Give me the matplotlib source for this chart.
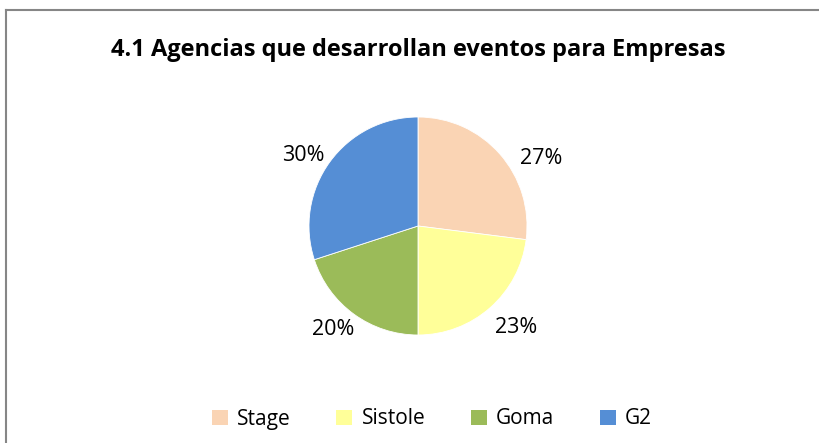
import matplotlib.pyplot as plt
from matplotlib.patches import Patch
from matplotlib.lines import Line2D

labels = ['Stage', 'Sistole', 'Goma', 'G2']
values = [27, 23, 20, 30]
colors = ['#FAD4B4', '#FFFF99', '#9BBB59', '#558ED5']
title = '4.1 Agencias que desarrollan eventos para Empresas'

# where each percentage sits, in units of the pie radius
label_pos = [(1.13, 0.62), (0.90, -0.93), (-0.78, -0.95), (-1.05, 0.65)]

plt.rcParams['font.family'] = ['Open Sans', 'DejaVu Sans']

W, H = 820, 443
fig = plt.figure(figsize=(W / 100, H / 100), dpi=100)

# frame: only top and left edges are visible in the crop
fig.add_artist(Line2D([6 / W, 1], [1 - 10 / H, 1 - 10 / H], color='#868686', lw=1.5))
fig.add_artist(Line2D([6 / W, 6 / W], [0, 1 - 10 / H], color='#868686', lw=1.5))

cx, cy, r = 418, 226, 109
ax = fig.add_axes([(cx - r) / W, (H - cy - r) / H, 2 * r / W, 2 * r / H])
wedges, _ = ax.pie(values, colors=colors, startangle=90, counterclock=False,
                   radius=1, wedgeprops=dict(edgecolor='white', linewidth=0.6))
ax.set_xlim(-1, 1)
ax.set_ylim(-1, 1)
ax.set_aspect('equal')
ax.axis('off')

for v, (x, y) in zip(values, label_pos):
    ax.text(x, y, f'{v}%', ha='center', va='center', fontsize=15.5, clip_on=False)

fig.text(418 / W, 1 - 50 / H, title, ha='center', va='center',
         fontsize=17, fontweight='bold', family=['Open Sans', 'DejaVu Sans'])

handles = [Patch(facecolor=c, edgecolor='none') for c in colors]
fig.legend(handles, labels, loc='center', bbox_to_anchor=(432 / W, 24 / H), ncol=4,
           frameon=False, fontsize=15, handlelength=0.75, handleheight=0.75,
           handletextpad=0.45, columnspacing=2.2)

fig.savefig('out.png', dpi=100)
